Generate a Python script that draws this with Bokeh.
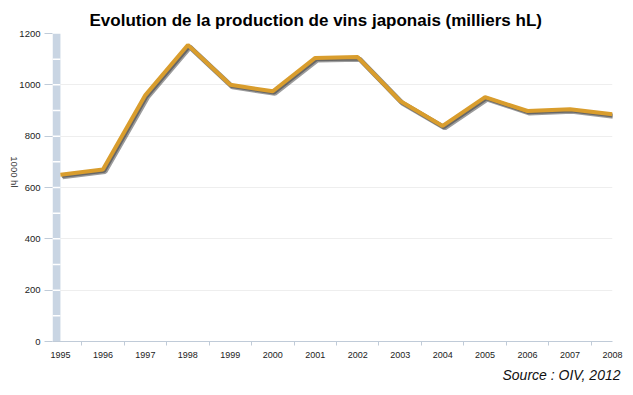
from math import pi
from bokeh.plotting import figure
from bokeh.models import Range1d, FixedTicker, ColumnDataSource, Title
from bokeh.transform import dodge
from bokeh.embed import file_html
from bokeh.resources import INLINE

# ---- data ----
years = [1995, 1996, 1997, 1998, 1999, 2000, 2001, 2002, 2003, 2004, 2005, 2006, 2007, 2008]
production = [650, 670, 960, 1155, 1000, 975, 1105, 1108, 937, 840, 952, 898, 905, 885]
y_ticks = [0, 200, 400, 600, 800, 1000, 1200]
band_steps = [0, 100, 200, 300, 400, 500, 600, 700, 800, 900, 1000, 1100]

title = "Evolution de la production de vins japonais (milliers hL)"
y_label = "1000 hl"
source_text = "Source : OIV, 2012"

ORANGE = "#D99D2D"
BAND = "#C9D5E3"
AXIS = "#C0CBD8"
FONT = "Liberation Sans"

x_start = 1994.813
p = figure(width=625, height=387, output_backend="svg", toolbar_location=None,
           x_range=Range1d(x_start, 2008), y_range=Range1d(0, 1200),
           min_border_left=48, min_border_right=13, min_border_top=33,
           min_border_bottom=46)
p.outline_line_color = None
p.background_fill_color = "white"

p.title.text = title
p.title.text_font = FONT
p.title.text_font_size = "17px"
p.title.text_font_style = "bold"
p.title.text_color = "black"
p.title.align = "left"
p.title.offset = 37
p.title.standoff = 8

# x axis
p.xaxis.ticker = FixedTicker(ticks=years, minor_ticks=[y + 0.5 for y in years[:-1]])
p.xaxis.major_tick_line_color = None
p.xaxis.major_tick_out = 0
p.xaxis.major_tick_in = 0
p.xaxis.minor_tick_line_color = AXIS
p.xaxis.minor_tick_out = 4
p.xaxis.minor_tick_in = 0
p.xaxis.axis_line_color = AXIS
p.xaxis.major_label_standoff = 6
p.xaxis.major_label_text_font = FONT
p.xaxis.major_label_text_font_size = "9px"
p.xaxis.major_label_text_color = "#222222"
p.xgrid.grid_line_color = None

# y axis
p.yaxis.ticker = FixedTicker(ticks=y_ticks)
p.yaxis.axis_line_color = None
p.yaxis.major_tick_line_color = AXIS
p.yaxis.major_tick_out = 8
p.yaxis.major_tick_in = 0
p.yaxis.minor_tick_line_color = None
p.yaxis.major_label_standoff = 4
p.yaxis.major_label_text_font = FONT
p.yaxis.major_label_text_font_size = "9.5px"
p.yaxis.major_label_text_color = "#222222"
p.yaxis.axis_label = y_label
p.yaxis.axis_label_text_font = FONT
p.yaxis.axis_label_text_font_size = "9.5px"
p.yaxis.axis_label_text_font_style = "normal"
p.yaxis.axis_label_text_color = "#333333"
p.yaxis.axis_label_standoff = 2
try:
    p.yaxis.axis_label_orientation = -pi / 2
except Exception:
    pass
p.ygrid.grid_line_color = "#EEEEEE"
p.ygrid.grid_line_width = 1

# band on the left (axis wall)
p.quad(left=x_start, right=1995, bottom=band_steps, top=[b + 100 for b in band_steps],
       fill_color=BAND, line_color=None)
p.segment(x0=x_start, x1=1995, y0=band_steps[1:], y1=band_steps[1:],
          line_color="white", line_width=1.5)

src = ColumnDataSource(dict(x=years, y=production))
# shadow
p.line(x=dodge("x", 0.05), y=dodge("y", -8), source=src,
       line_color="#3a3a3a", line_alpha=0.5, line_width=5)
p.line(x=dodge("x", 0.03), y=dodge("y", -5), source=src,
       line_color="#444444", line_alpha=0.6, line_width=4)
# main line
p.line(x="x", y="y", source=src, line_color=ORANGE, line_width=4)

src_title = Title(text=source_text, align="right", text_font=FONT,
                  text_font_size="14px", text_font_style="italic",
                  text_color="#111111", standoff=9, offset=-8)
p.add_layout(src_title, "below")

open("out.html", "w").write(file_html(p, INLINE))
